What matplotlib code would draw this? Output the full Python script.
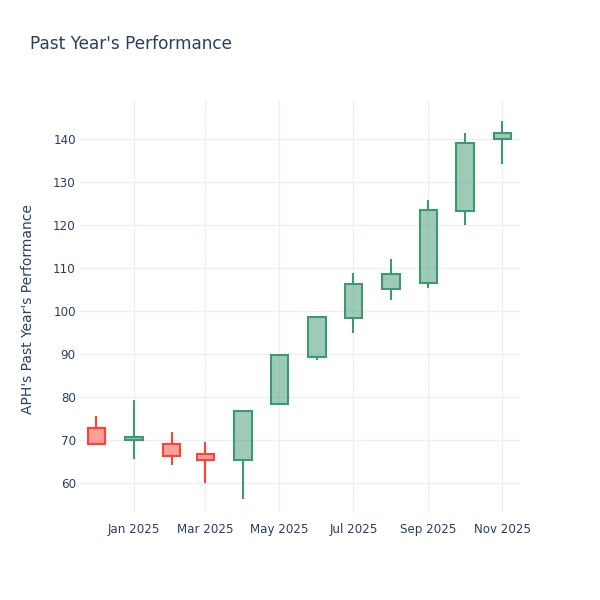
import numpy as np
import pandas as pd
import matplotlib
matplotlib.use("Agg")
import matplotlib.pyplot as plt
import matplotlib.dates as mdates

# === Data (monthly candles) ===
dates = pd.to_datetime([
    "2024-12-01", "2025-01-01", "2025-02-01", "2025-03-01", "2025-04-01", "2025-05-01",
    "2025-06-01", "2025-07-01", "2025-08-01", "2025-09-01", "2025-10-01", "2025-11-01",
])
opens = [72.9, 70.0, 69.1, 66.7, 65.4, 78.3, 89.3, 98.5, 105.1, 106.6, 123.3, 140.1]
highs = [75.6, 79.3, 71.8, 69.6, 77.0, 90.0, 98.8, 108.8, 112.1, 125.8, 141.5, 144.2]
lows = [68.9, 65.6, 64.2, 60.0, 56.3, 78.1, 88.7, 95.0, 102.7, 105.5, 120.0, 134.3]
closes = [69.2, 70.8, 66.4, 65.4, 76.8, 89.9, 98.6, 106.2, 108.7, 123.6, 139.2, 141.4]

xtick_dates = pd.to_datetime(["2025-01-01", "2025-03-01", "2025-05-01",
                              "2025-07-01", "2025-09-01", "2025-11-01"])
xtick_labels = ["Jan 2025", "Mar 2025", "May 2025", "Jul 2025", "Sep 2025", "Nov 2025"]
yticks = [60, 70, 80, 90, 100, 110, 120, 130, 140]

# === Style ===
inc_color = "#3D9970"
dec_color = "#FF4136"
text_color = "#2a3f5f"
grid_color = "#EBF0F8"

fig = plt.figure(figsize=(6, 6), dpi=100)
ax = fig.add_axes([80 / 600, 1 - 512 / 600, 440 / 600, 412 / 600])

o = np.array(opens)
c = np.array(closes)
h = np.array(highs)
l = np.array(lows)
up = c >= o
colors = np.where(up, inc_color, dec_color)
box_lo = np.minimum(o, c)
box_hi = np.maximum(o, c)

x = mdates.date2num(dates)

# wicks (outside the body)
ax.vlines(x, l, box_lo, colors=colors, linewidth=1.5, zorder=3)
ax.vlines(x, box_hi, h, colors=colors, linewidth=1.5, zorder=3)

# bodies
for xi, lo, hi, col in zip(x, box_lo, box_hi, colors):
    ax.bar(xi, hi - lo, bottom=lo, width=14.5, color=col, alpha=0.5,
           linewidth=0, zorder=3)
    ax.bar(xi, hi - lo, bottom=lo, width=14.5, facecolor="none",
           edgecolor=col, linewidth=1.5, zorder=4)

ax.set_xlim(mdates.date2num(pd.Timestamp("2024-11-17 12:00")),
            mdates.date2num(pd.Timestamp("2025-11-15 12:00")))
ax.set_ylim(53.3, 149.1)

ax.set_xticks(mdates.date2num(xtick_dates))
ax.set_xticklabels(xtick_labels)
ax.set_yticks(yticks)
ax.tick_params(axis="both", length=0, labelsize=8.6, colors=text_color)
ax.tick_params(axis="x", pad=8)
ax.tick_params(axis="y", pad=3)
ax.grid(True, color=grid_color, linewidth=1)
ax.set_axisbelow(True)
for s in ax.spines.values():
    s.set_visible(False)

fig.text(30 / 600, 1 - 44 / 600, "Past Year's Performance", fontsize=12.2,
         color=text_color, va="center", ha="left")
fig.text(28 / 600, 1 - 309 / 600, "APH's Past Year's Performance", fontsize=10,
         color=text_color, va="center", ha="center", rotation=90)

fig.savefig("out.png", dpi=100, facecolor="white")
